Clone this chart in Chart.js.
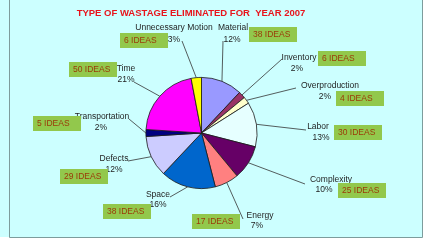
<!DOCTYPE html>
<html>
<head>
<meta charset="utf-8">
<script src="https://cdn.jsdelivr.net/npm/chart.js@4.4.1/dist/chart.umd.min.js"></script>
<style>
  html, body { margin:0; padding:0; background:#ffffff; }
  #wrap { width:430px; height:242px; }
</style>
</head>
<body>
<div id="wrap"><canvas id="wastage" width="430" height="242"></canvas></div>
<script>
// Type of wastage eliminated for year 2007 - pie with callout labels and idea counts

const categories = ['Material','Inventory','Overproduction','Labor','Complexity','Energy','Space','Defects','Transportation','Time','Unnecessary Motion'];
const shares = [12, 2, 2, 13, 10, 7, 16, 12, 2, 21, 3];
const ideas = [38, 6, 4, 30, 25, 17, 38, 29, 5, 50, 6];
const sliceColors = ['#9999ff','#993366','#ffffcc','#e6ffff','#660066','#ff8080','#0066cc','#ccccff','#000080','#ff00ff','#ffff00'];

// where the callouts sit (name centre, pct centre, leader start, idea box top-left)
const calloutLayout = [
    {nx:233, ny:28,  px:232, py:40,  lx:223, ly:41,  bx:249, by:27},
    {nx:299, ny:58,  px:297, py:69,  lx:282, ly:59,  bx:318, by:51},
    {nx:330, ny:86,  px:325, py:97,  lx:296, ly:88,  bx:336, by:91},
    {nx:318, ny:127, px:321, py:138, lx:306, ly:130, bx:334, by:125},
    {nx:331, ny:180, px:324, py:190, lx:305, ly:184, bx:338, by:183},
    {nx:260, ny:216, px:257, py:226, lx:243, ly:219, bx:192, by:214},
    {nx:158, ny:195, px:158, py:205, lx:170, ly:197, bx:103, by:204},
    {nx:114, ny:159, px:114, py:170, lx:128, ly:161, bx:60,  by:169},
    {nx:102, ny:117, px:101, py:128, lx:129, ly:119, bx:33,  by:116},
    {nx:126, ny:69,  px:126, py:80,  lx:134, ly:82,  bx:69,  by:62},
    {nx:174, ny:28,  px:174, py:40,  lx:182, ly:41,  bx:120, by:33}
];

const backdrop = {
    id:'backdrop',
    beforeDraw(chart){
        const c = chart.ctx;
        c.save();
        c.fillStyle = '#ffffff';
        c.fillRect(0, 0, 430, 242);
        c.fillStyle = '#ccffff';
        c.fillRect(0, 0, 422, 237);
        c.strokeStyle = '#7d9c9c';
        c.lineWidth = 1;
        c.beginPath();
        c.moveTo(9.5, 0); c.lineTo(9.5, 237.5);
        c.lineTo(422.5, 237.5); c.lineTo(422.5, 0);
        c.stroke();
        c.restore();
    }
};

const callouts = {
    id:'callouts',
    afterDraw(chart){
        const c = chart.ctx;
        const arcs = chart.getDatasetMeta(0).data;
        c.save();

        // title
        c.fillStyle = '#e8141c';
        c.font = 'bold 9.5px "Liberation Sans", Arial, sans-serif';
        c.textAlign = 'center';
        c.textBaseline = 'middle';
        c.fillText('TYPE OF WASTAGE ELIMINATED FOR  YEAR 2007', 191, 13);

        arcs.forEach((arc, i)=>{
            const L = calloutLayout[i];
            const mid = (arc.startAngle + arc.endAngle) / 2;
            const ex = arc.x + Math.cos(mid) * arc.outerRadius;
            const ey = arc.y + Math.sin(mid) * arc.outerRadius;

            // leader line
            c.strokeStyle = '#333333';
            c.lineWidth = 0.8;
            c.beginPath();
            c.moveTo(L.lx, L.ly);
            c.lineTo(ex, ey);
            c.stroke();

            // category + percentage
            c.fillStyle = '#1e1e1e';
            c.font = '8.5px "Liberation Sans", Arial, sans-serif';
            c.textAlign = 'center';
            c.fillText(categories[i], L.nx, L.ny);
            c.fillText(shares[i] + '%', L.px, L.py);

            // idea box
            c.fillStyle = '#92c84c';
            c.fillRect(L.bx, L.by, 48, 15);
            c.fillStyle = '#9a3a08';
            c.font = '8.5px "Liberation Sans", Arial, sans-serif';
            c.textAlign = 'left';
            c.fillText(ideas[i] + ' IDEAS', L.bx + 4, L.by + 8);
        });
        c.restore();
    }
};

new Chart(document.getElementById('wastage'), {
    type:'pie',
    data:{
        labels: categories,
        datasets:[{
            data: shares,
            backgroundColor: sliceColors,
            borderColor: '#1a1a1a',
            borderWidth: 0.8
        }]
    },
    options:{
        responsive:false,
        animation:false,
        devicePixelRatio:1,
        rotation:0,
        layout:{ padding:{ left:145, right:172, top:77, bottom:53 } },
        plugins:{
            legend:{ display:false },
            tooltip:{ enabled:false }
        }
    },
    plugins:[backdrop, callouts]
});
</script>
</body>
</html>
